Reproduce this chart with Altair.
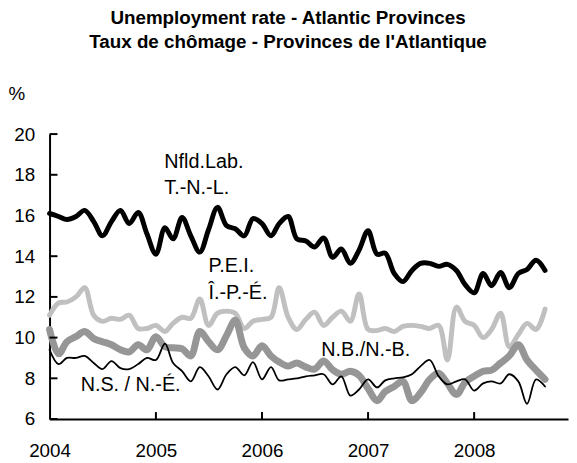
import altair as alt
import pandas as pd

months = [d.strftime("%Y-%m-%d") for d in pd.date_range("2004-01-01", "2008-09-01", freq="MS")]

nfld = [16.1, 15.95, 15.8, 15.95, 16.25, 15.7, 15.0, 15.7, 16.25, 15.6,
        16.15, 15.1, 14.1, 15.4, 14.85, 15.9, 15.0, 14.2, 15.3, 16.4,
        15.5, 15.35, 15.0, 15.85, 15.6, 15.0, 15.6, 15.95, 14.85, 14.75,
        14.45, 14.9, 13.95, 14.35, 13.65, 14.3, 15.25, 14.1, 14.15, 13.15,
        12.75, 13.3, 13.65, 13.65, 13.5, 13.6, 13.3, 12.6, 12.2, 13.15,
        12.55, 13.2, 12.45, 13.15, 13.35, 13.8, 13.3]
pei = [11.1, 11.7, 11.75, 12.0, 12.45, 11.1, 10.8, 10.95, 10.9, 11.1,
       10.45, 10.45, 10.6, 10.3, 10.7, 11.0, 10.95, 11.9, 10.6, 11.2,
       11.3, 11.2, 10.45, 10.8, 10.9, 11.0, 12.45, 11.0, 10.4, 10.9,
       11.25, 10.6, 11.0, 11.3, 10.8, 12.15, 10.4, 10.35, 10.45, 10.3,
       10.55, 10.6, 10.55, 10.45, 10.6, 8.9, 11.5, 10.8, 10.6, 10.0,
       10.4, 11.2, 9.55, 10.15, 10.7, 10.4, 11.4]
nb = [10.4, 9.2, 9.8, 10.05, 10.3, 9.95, 9.8, 9.65, 9.4, 9.3,
      9.65, 9.4, 10.05, 9.55, 9.5, 9.45, 9.1, 10.3, 9.8, 9.4,
      10.1, 10.85, 9.5, 9.1, 9.6, 9.1, 8.8, 8.6, 8.75, 8.55,
      8.45, 8.85, 8.42, 8.2, 8.35, 8.15, 7.5, 6.9, 7.35, 7.6,
      7.85, 6.9, 7.3, 7.95, 8.25, 7.75, 7.2, 7.8, 8.1, 8.35,
      8.4, 8.75, 9.1, 9.65, 8.9, 8.4, 7.95]
ns = [9.4, 8.7, 9.0, 9.0, 9.1, 8.75, 8.45, 8.85, 8.5, 8.45,
      8.7, 9.0, 8.9, 9.7, 8.75, 8.35, 7.85, 8.55, 8.1, 7.45,
      8.2, 8.55, 8.15, 8.8, 7.95, 8.55, 7.9, 7.95, 8.0, 8.1,
      8.15, 8.2, 7.7, 8.1, 7.15, 7.45, 7.95, 7.55, 7.9, 8.0,
      8.05, 8.2, 8.6, 8.9, 8.1, 7.7, 7.85, 7.95, 7.4, 7.75,
      7.85, 7.75, 8.2, 7.85, 6.75, 7.95, 7.6]

y_ticks = [6, 8, 10, 12, 14, 16, 18, 20]
x_ticks = ["2005-01-01", "2006-01-01", "2007-01-01", "2008-01-01"]
x_label_years = [2004, 2005, 2006, 2007, 2008]

label_text = ["Nfld.Lab.", "T.-N.-L.", "P.E.I.", "Î.-P.-É.", "N.B./N.-B.", "N.S. / N.-É."]
label_date = ["2005-01-30", "2005-01-30", "2005-07-01", "2005-07-01", "2006-07-24", "2004-04-17"]
label_val = [18.34, 17.04, 13.2, 11.91, 9.08, 7.37]

FONT = "Liberation Sans"
FS = 19
W, H = 524, 288

df = pd.DataFrame({"date": months, "nfld": nfld, "pei": pei, "nb": nb, "ns": ns})

xscale = alt.Scale(type="utc", domain=[alt.DateTime(year=2004, month=1, date=1, utc=True),
                                       alt.DateTime(year=2008, month=11, date=19, utc=True)])
yscale = alt.Scale(domain=[6, 20], nice=False, zero=False)

xaxis = alt.Axis(values=[alt.DateTime(year=y, month=1, date=1, utc=True) for y in x_label_years],
                 format="%Y", formatType="utc", labelFontSize=FS, labelFont=FONT, labelColor="black",
                 ticks=False, tickSize=0, labelPadding=23, domainColor="black", domainWidth=2,
                 grid=False, title=None, labelFlush=False, labelOverlap=False)
yaxis = alt.Axis(values=y_ticks, labelFontSize=FS, labelFont=FONT, labelColor="black",
                 ticks=False, tickSize=0, labelPadding=15, domainColor="black", domainWidth=2,
                 grid=False, title="%", titleAngle=0, titleFontSize=FS, titleFont=FONT,
                 titleFontWeight="normal", titleColor="black", titleX=-42, titleY=-41,
                 titleAlign="left", titleBaseline="middle", labelFlush=False, labelOverlap=False)

base = alt.Chart(df)

def series(field, color, width):
    return base.mark_line(interpolate="catmull-rom", color=color, strokeWidth=width,
                          strokeJoin="round", strokeCap="round").encode(
        x=alt.X("date:T", scale=xscale, axis=xaxis),
        y=alt.Y(f"{field}:Q", scale=yscale, axis=yaxis),
    )

l_nfld = series("nfld", "#000000", 5)
l_pei = series("pei", "#c0c0c0", 5)
l_nb = series("nb", "#969696", 7)
l_ns = series("ns", "#000000", 1.8)

ytick_df = pd.DataFrame({"v": y_ticks})
yticks = alt.Chart(ytick_df).mark_rule(color="black", strokeWidth=2).encode(
    y=alt.Y("v:Q", scale=yscale, axis=yaxis), x=alt.value(0), x2=alt.value(8))

xtick_df = pd.DataFrame({"d": x_ticks})
xticks = alt.Chart(xtick_df).mark_rule(color="black", strokeWidth=2).encode(
    x=alt.X("d:T", scale=xscale, axis=xaxis), y=alt.value(H), y2=alt.value(H - 7))

lab_df = pd.DataFrame({"t": label_text, "d": label_date, "v": label_val})
labels = alt.Chart(lab_df).mark_text(align="left", baseline="alphabetic", fontSize=20,
                                      font=FONT, color="black").encode(
    x=alt.X("d:T", scale=xscale, axis=xaxis), y=alt.Y("v:Q", scale=yscale, axis=yaxis), text="t:N")

chart = alt.layer(l_nfld, l_pei, l_nb, l_ns, yticks, xticks, labels).properties(
    width=W, height=H,
    title=alt.TitleParams(["Unemployment rate - Atlantic Provinces",
                           "Taux de chômage - Provinces de l'Atlantique"],
                          fontSize=19, fontWeight="bold", font=FONT, color="black",
                          anchor="middle", dx=-21, offset=33, lineHeight=24),
    autosize=alt.AutoSizeParams(type="none"),
    padding={"left": 42, "top": 125, "right": 1, "bottom": 40},
    background="white",
).configure_view(stroke=None)

chart.save("out.html", embed_options={"renderer": "svg", "actions": False})
